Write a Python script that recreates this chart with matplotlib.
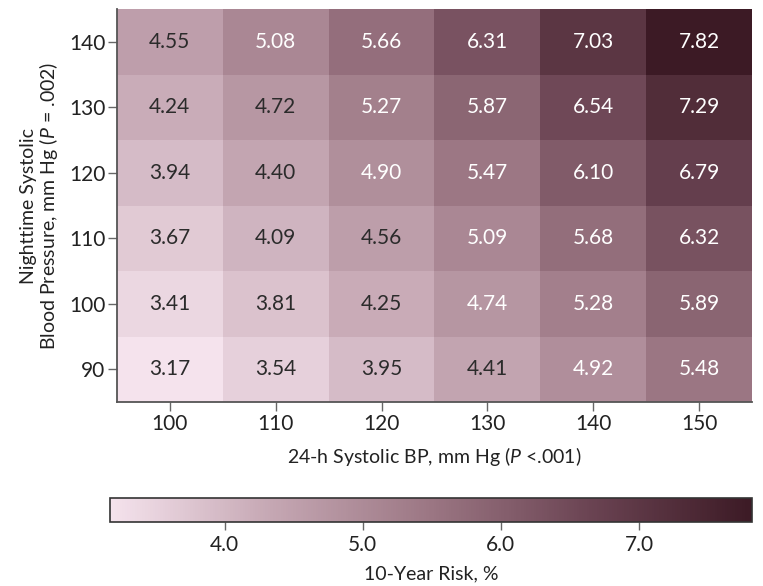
import matplotlib.pyplot as plt
import numpy as np
from matplotlib.colors import LinearSegmentedColormap

plt.rcParams['font.family'] = ['Lato', 'DejaVu Sans']
plt.rcParams['mathtext.fontset'] = 'custom'
plt.rcParams['mathtext.it'] = 'Lato:italic'
plt.rcParams['mathtext.rm'] = 'Lato'

# 24-h systolic BP (columns) and nighttime systolic BP (rows)
day_bp = [100, 110, 120, 130, 140, 150]
night_bp = [90, 100, 110, 120, 130, 140]

# 10-year risk, %  (rows = night_bp from 90 up to 140)
risk_90 = [3.17, 3.54, 3.95, 4.41, 4.92, 5.48]
risk_100 = [3.41, 3.81, 4.25, 4.74, 5.28, 5.89]
risk_110 = [3.67, 4.09, 4.56, 5.09, 5.68, 6.32]
risk_120 = [3.94, 4.40, 4.90, 5.47, 6.10, 6.79]
risk_130 = [4.24, 4.72, 5.27, 5.87, 6.54, 7.29]
risk_140 = [4.55, 5.08, 5.66, 6.31, 7.03, 7.82]

risk = np.array([risk_90, risk_100, risk_110, risk_120, risk_130, risk_140])
cbar_ticks = [4.0, 5.0, 6.0, 7.0]

cmap = LinearSegmentedColormap.from_list(
    "risk", ["#f5e3ed", "#c5a7b3", "#9b7683", "#6a4352", "#3c1a25"])
vmin, vmax = risk.min(), risk.max()

NUM_FS = 15
LAB_FS = 14

fig = plt.figure(figsize=(7.63, 5.86), dpi=100)
ax = fig.add_axes([0.1533, 0.314, 0.8323, 0.6706])

mesh = ax.pcolormesh(np.arange(len(day_bp) + 1), np.arange(len(night_bp) + 1),
                     risk, cmap=cmap, vmin=vmin, vmax=vmax)

for i in range(len(night_bp)):
    for j in range(len(day_bp)):
        v = risk[i, j]
        col = "white" if v > 4.73 else "#2b2b2b"
        ax.text(j + 0.5, i + 0.5, f"{v:.2f}", ha="center", va="center",
                color=col, fontsize=NUM_FS)

ax.set_xticks(np.arange(len(day_bp)) + 0.5)
ax.set_xticklabels([str(d) for d in day_bp])
ax.set_yticks(np.arange(len(night_bp)) + 0.5)
ax.set_yticklabels([str(n) for n in night_bp])
ax.set_xlim(0, len(day_bp))
ax.set_ylim(0, len(night_bp))

for s in ["top", "right"]:
    ax.spines[s].set_visible(False)
for s in ["left", "bottom"]:
    ax.spines[s].set_color("#555555")
    ax.spines[s].set_linewidth(1.3)
ax.tick_params(axis="both", colors="#666666", labelcolor="#222222",
               labelsize=NUM_FS, length=6.5, width=1, pad=2)

ax.set_xlabel(r"24-h Systolic BP, mm Hg ($\it{P}$ <.001)", fontsize=LAB_FS,
              color="#222222", labelpad=8)
ax.set_ylabel("Nighttime Systolic\n" + r"Blood Pressure, mm Hg ($\it{P}$ = .002)",
              fontsize=LAB_FS, color="#222222", labelpad=6, linespacing=1.05)

cax = fig.add_axes([0.144, 0.109, 0.842, 0.041])
cb = fig.colorbar(mesh, cax=cax, orientation="horizontal", ticks=cbar_ticks)
cb.ax.set_xticklabels([f"{t:.1f}" for t in cbar_ticks])
cb.outline.set_edgecolor("#333333")
cb.outline.set_linewidth(1.2)
cb.ax.tick_params(colors="#666666", labelcolor="#222222", labelsize=NUM_FS,
                  length=6, width=1, pad=3)
cb.set_label("10-Year Risk, %", fontsize=LAB_FS, color="#222222", labelpad=8)

fig.savefig("out.png", dpi=100)
